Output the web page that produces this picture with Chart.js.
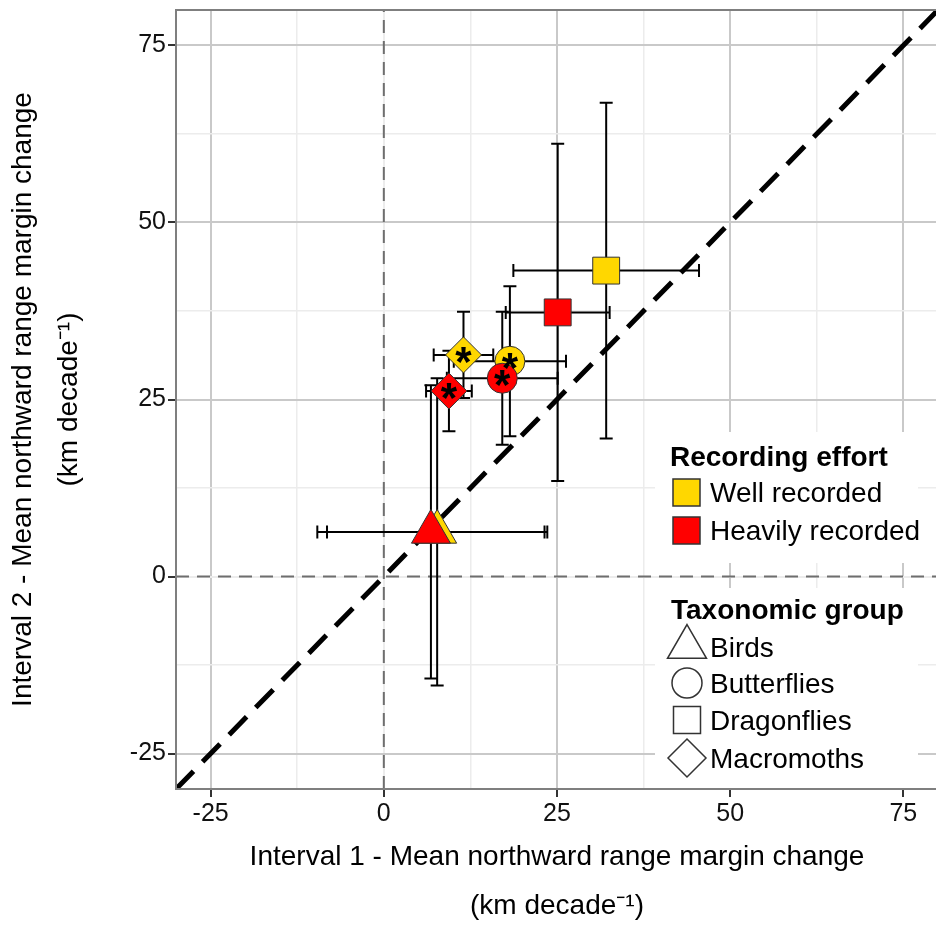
<!DOCTYPE html>
<html>
<head>
<meta charset="utf-8">
<script src="https://cdn.jsdelivr.net/npm/chart.js@4.4.1/dist/chart.umd.min.js"></script>
<style>
  html, body { margin: 0; padding: 0; background: #fff; overflow: hidden; }
  #wrap { position: relative; width: 938px; height: 947px; }
</style>
</head>
<body>
<div id="wrap"><canvas id="chart"></canvas></div>
<script>
// taxonomic groups, one point per group and recording effort
const groups = ["Birds", "Butterflies", "Dragonflies", "Macromoths"];
const starred = [false, true, false, true];

// well recorded (yellow)
const wellX = [7.7, 18.2, 32.1, 11.5];
const wellY = [6.3, 30.4, 43.2, 31.3];
const wellXErr = [15.9, 8.1, 13.4, 4.3];
const wellYErr = [21.7, 10.6, 23.7, 6.1];

// heavily recorded (red)
const heavyX = [6.8, 17.1, 25.1, 9.4];
const heavyY = [6.3, 28.0, 37.3, 26.2];
const heavyXErr = [16.4, 8.0, 7.5, 3.3];
const heavyYErr = [20.7, 9.4, 23.8, 5.7];

// 1:1 line and axis ticks
const refLine = [-30, 80];
const axisTicks = [-25, -12.5, 0, 12.5, 25, 37.5, 50, 62.5, 75];
const tickLabels = ["-25", "", "0", "", "25", "", "50", "", "75"];

const FONT = '"Liberation Sans", Arial, sans-serif';
const YELLOW = "#FFD700";
const RED = "#FF0000";
const shapeOf = { Birds: "triangle", Butterflies: "circle", Dragonflies: "rect", Macromoths: "rectRot" };
const sizeOf = { Birds: 22.5, Butterflies: 15, Dragonflies: 19, Macromoths: 18 };

Chart.defaults.font.family = FONT;

function points(xs, ys) {
  return xs.map((v, i) => ({ x: v, y: ys[i] }));
}

function isMajor(v) {
  return v % 25 === 0;
}

const errorBars = {
  id: "errorBars",
  beforeDatasetsDraw(chart) {
    const { ctx, chartArea: a, scales: { x, y } } = chart;
    ctx.save();
    ctx.beginPath();
    ctx.rect(a.left, a.top, a.right - a.left, a.bottom - a.top);
    ctx.clip();

    // dashed zero lines
    const x0 = x.getPixelForValue(0);
    const y0 = y.getPixelForValue(0);
    ctx.strokeStyle = "#6e6e6e";
    ctx.lineWidth = 2;
    ctx.setLineDash([13, 8]);
    ctx.beginPath();
    ctx.moveTo(x0, a.bottom);
    ctx.lineTo(x0, a.top);
    ctx.moveTo(a.left, y0);
    ctx.lineTo(a.right, y0);
    ctx.stroke();
    ctx.setLineDash([]);

    const cap = 6.5;
    ctx.strokeStyle = "#000";
    ctx.lineWidth = 2;
    chart.data.datasets.forEach((ds) => {
      if (!ds.xErr) return;
      ds.data.forEach((p, i) => {
        const px = x.getPixelForValue(p.x);
        const py = y.getPixelForValue(p.y);
        const l = x.getPixelForValue(p.x - ds.xErr[i]);
        const r = x.getPixelForValue(p.x + ds.xErr[i]);
        const t = y.getPixelForValue(p.y + ds.yErr[i]);
        const b = y.getPixelForValue(p.y - ds.yErr[i]);
        ctx.beginPath();
        ctx.moveTo(l, py); ctx.lineTo(r, py);
        ctx.moveTo(l, py - cap); ctx.lineTo(l, py + cap);
        ctx.moveTo(r, py - cap); ctx.lineTo(r, py + cap);
        ctx.moveTo(px, t); ctx.lineTo(px, b);
        ctx.moveTo(px - cap, t); ctx.lineTo(px + cap, t);
        ctx.moveTo(px - cap, b); ctx.lineTo(px + cap, b);
        ctx.stroke();
      });
    });
    ctx.restore();
  },
  afterDatasetsDraw(chart) {
    // asterisks on significant groups
    const { ctx, scales: { x, y } } = chart;
    ctx.save();
    ctx.fillStyle = "#000";
    ctx.font = "bold 42px " + FONT;
    ctx.textAlign = "center";
    ctx.textBaseline = "alphabetic";
    const m = ctx.measureText("*");
    const shift = (m.actualBoundingBoxAscent - m.actualBoundingBoxDescent) / 2;
    chart.data.datasets.forEach((ds) => {
      if (!ds.xErr) return;
      ds.data.forEach((p, i) => {
        if (!starred[i]) return;
        ctx.fillText("*", x.getPixelForValue(p.x), y.getPixelForValue(p.y) + shift);
      });
    });
    ctx.restore();
  },
  afterDraw(chart) {
    const { ctx, chartArea: a } = chart;
    ctx.save();
    drawLegend(ctx);
    // panel border
    ctx.strokeStyle = "#7f7f7f";
    ctx.lineWidth = 2;
    ctx.strokeRect(a.left, a.top, a.right - a.left, a.bottom - a.top);
    ctx.restore();
  }
};

function legendShape(ctx, shape, cx, cy, r) {
  ctx.beginPath();
  if (shape === "triangle") {
    ctx.moveTo(cx, cy - r);
    ctx.lineTo(cx + r * 0.866, cy + r / 2);
    ctx.lineTo(cx - r * 0.866, cy + r / 2);
    ctx.closePath();
  } else if (shape === "circle") {
    ctx.arc(cx, cy, r, 0, Math.PI * 2);
  } else if (shape === "rect") {
    ctx.rect(cx - r, cy - r, 2 * r, 2 * r);
  } else {
    ctx.moveTo(cx, cy - r);
    ctx.lineTo(cx + r, cy);
    ctx.lineTo(cx, cy + r);
    ctx.lineTo(cx - r, cy);
    ctx.closePath();
  }
  ctx.fillStyle = "#fff";
  ctx.fill();
  ctx.stroke();
}

function drawLegend(ctx) {
  ctx.fillStyle = "#fff";
  ctx.fillRect(655, 432, 263, 131);
  ctx.fillRect(655, 588, 263, 202);

  ctx.fillStyle = "#000";
  ctx.textAlign = "left";
  ctx.textBaseline = "alphabetic";
  ctx.font = "bold 28px " + FONT;
  ctx.fillText("Recording effort", 670, 466);
  ctx.fillText("Taxonomic group", 671, 619);

  ctx.font = "28px " + FONT;
  ctx.strokeStyle = "#333";
  ctx.lineWidth = 1.5;
  [["Well recorded", YELLOW, 479], ["Heavily recorded", RED, 517]].forEach(([label, col, top]) => {
    ctx.fillStyle = col;
    ctx.fillRect(673, top, 27, 27);
    ctx.strokeRect(673, top, 27, 27);
    ctx.fillStyle = "#000";
    ctx.fillText(label, 710, top + 23);
  });

  const rows = [[647, 22.5], [683, 15], [720, 13.5], [758, 19]];
  groups.forEach((g, i) => {
    const [cy, r] = rows[i];
    ctx.strokeStyle = "#333";
    legendShape(ctx, shapeOf[g], 687, cy, r);
    ctx.fillStyle = "#000";
    ctx.fillText(g, 710, cy + 10);
  });
}

function noPad(s) {
  s.paddingTop = 0;
  s.paddingBottom = 0;
  s.paddingLeft = 0;
  s.paddingRight = 0;
}

function scaleOptions(titleLines, fit, titlePad, lineH) {
  return {
    type: "linear",
    min: refLine[0],
    max: refLine[1],
    afterBuildTicks: (s) => { s.ticks = axisTicks.map((v) => ({ value: v })); },
    afterFit: (s) => { fit(s); noPad(s); },
    ticks: {
      autoSkip: false,
      maxRotation: 0,
      padding: 2,
      color: "#111",
      font: { size: 25 },
      callback: (v) => tickLabels[axisTicks.indexOf(v)] || ""
    },
    grid: {
      color: (c) => isMajor(c.tick.value) ? (c.tick.value === 0 ? "#ececec" : "#c9c9c9") : "#ececec",
      lineWidth: (c) => isMajor(c.tick.value) ? 2 : 1.5,
      tickColor: (c) => isMajor(c.tick.value) ? "#333" : "rgba(0,0,0,0)",
      tickWidth: 2,
      tickLength: 8
    },
    border: { display: false },
    title: {
      display: true,
      text: titleLines,
      color: "#000",
      font: { size: 28, lineHeight: lineH },
      padding: titlePad
    }
  };
}

const ds = (label, xs, ys, xErr, yErr, col, order) => ({
  label: label,
  data: points(xs, ys),
  xErr: xErr,
  yErr: yErr,
  backgroundColor: col,
  borderColor: "#333",
  borderWidth: 1,
  pointStyle: groups.map((g) => shapeOf[g]),
  pointRadius: groups.map((g) => sizeOf[g]),
  pointHoverRadius: groups.map((g) => sizeOf[g]),
  order: order
});

new Chart(document.getElementById("chart"), {
  type: "scatter",
  data: {
    datasets: [
      ds("Heavily recorded", heavyX, heavyY, heavyXErr, heavyYErr, RED, 0),
      ds("Well recorded", wellX, wellY, wellXErr, wellYErr, YELLOW, 1),
      {
        label: "1:1",
        data: points(refLine, refLine),
        showLine: true,
        borderColor: "#000",
        borderWidth: 5,
        borderDash: [25, 13],
        pointRadius: 0,
        order: 2
      }
    ]
  },
  options: {
    responsive: true,
    maintainAspectRatio: false,
    animation: false,
    layout: { autoPadding: false, padding: { top: 10, right: 0, bottom: 0, left: 0 } },
    plugins: { legend: { display: false }, tooltip: { enabled: false } },
    scales: {
      x: scaleOptions(
        ["Interval 1 - Mean northward range margin change", "(km decade\u207B\u00B9)"],
        (s) => { s.height = 158; },
        { top: 0, bottom: 16.5 },
        1.75
      ),
      y: scaleOptions(
        ["Interval 2 - Mean northward range margin change", "(km decade\u207B\u00B9)"],
        (s) => { s.width = 176; },
        { top: 0, bottom: 0 },
        46 / 28
      )
    }
  },
  plugins: [errorBars]
});
</script>
</body>
</html>
